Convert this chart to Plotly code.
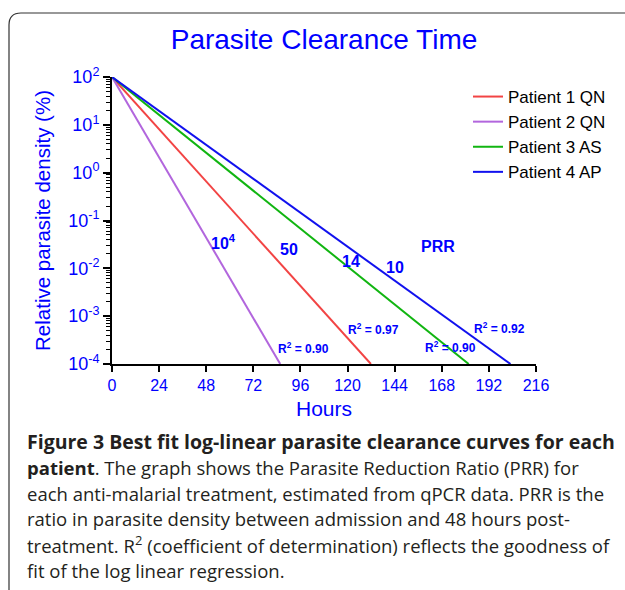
import plotly.graph_objects as go

# ---- data ----
patients = ["Patient 1 QN", "Patient 2 QN", "Patient 3 AS", "Patient 4 AP"]
colors = ["#f24444", "#b266dd", "#11b511", "#1111ee"]
start_hours = [0, 0, 0, 0]
end_hours = [131.9, 85.7, 181.7, 203.0]
start_density = [100, 100, 100, 100]
end_density = [1e-4, 1e-4, 1e-4, 1e-4]

prr_labels = ["10<sup>4</sup>", "50", "14", "10", "PRR"]
prr_x = [57.0, 90.0, 121.5, 144.0, 166.0]
prr_logy = [-1.45, -1.61, -1.85, -1.99, -1.55]

r2_labels = ["R<sup>2</sup> = 0.90", "R<sup>2</sup> = 0.97", "R<sup>2</sup> = 0.90", "R<sup>2</sup> = 0.92"]
r2_x = [97.5, 133.0, 172.5, 197.5]
r2_logy = [-3.66, -3.27, -3.65, -3.25]

y_tickvals = [1e-4, 1e-3, 1e-2, 1e-1, 1, 10, 100]
y_ticktext = ["10<sup>-4</sup>", "10<sup>-3</sup>", "10<sup>-2</sup>", "10<sup>-1</sup>",
              "10<sup>0</sup>", "10<sup>1</sup>", "10<sup>2</sup>"]
x_tickvals = [0, 24, 48, 72, 96, 120, 144, 168, 192, 216]

caption_lines = [
    "<b>Figure 3 Best fit log-linear parasite clearance curves for each</b>",
    "<b>patient</b>. The graph shows the Parasite Reduction Ratio (PRR) for",
    "each anti-malarial treatment, estimated from qPCR data. PRR is the",
    "ratio in parasite density between admission and 48 hours post-",
    "treatment. R<sup>2</sup> (coefficient of determination) reflects the goodness of",
    "fit of the log linear regression.",
]
caption_y_px = [441, 467, 493, 518, 544, 570]

# ---- layout geometry ----
W, H = 625, 590
L, R, T, B = 112, 89, 77, 226
pw, ph = W - L - R, H - T - B


def px_x(x):
    return (x - L) / pw


def px_y(y):
    return (H - B - y) / ph


BLUE = "#0000ff"
FONT = "Liberation Sans, Arial, sans-serif"

fig = go.Figure()
for name, c, x0, x1, y0, y1 in zip(patients, colors, start_hours, end_hours, start_density, end_density):
    fig.add_trace(go.Scatter(x=[x0, x1], y=[y0, y1], mode="lines", name=name,
                             line=dict(color=c, width=2)))

for t, x, ly in zip(prr_labels, prr_x, prr_logy):
    fig.add_annotation(x=x, y=ly, text=f"<b>{t}</b>", showarrow=False,
                       font=dict(family=FONT, size=16, color=BLUE))
for t, x, ly in zip(r2_labels, r2_x, r2_logy):
    fig.add_annotation(x=x, y=ly, text=f"<b>{t}</b>", showarrow=False,
                       font=dict(family=FONT, size=12, color=BLUE))

for i, (t, y) in enumerate(zip(caption_lines, caption_y_px)):
    fig.add_annotation(xref="paper", yref="paper", x=px_x(25), y=px_y(y), text=t,
                       showarrow=False, xanchor="left", yanchor="middle",
                       font=dict(family="Open Sans, sans-serif", size=19.5 if i == 0 else 18.5,
                                 color="#231f20"))

# frame with rounded top-left corner
xl, yt, rr = 9, 13, 12
path = (f"M {px_x(xl)},{px_y(600)} L {px_x(xl)},{px_y(yt + rr)} "
        f"Q {px_x(xl)},{px_y(yt)} {px_x(xl + rr)},{px_y(yt)} L {px_x(640)},{px_y(yt)}")
fig.add_shape(type="path", xref="paper", yref="paper", path=path,
              line=dict(color="#333333", width=1.2))

fig.update_layout(
    width=W, height=H,
    margin=dict(l=L, r=R, t=T, b=B, pad=0, autoexpand=False),
    paper_bgcolor="white", plot_bgcolor="white",
    title=dict(text="Parasite Clearance Time", xref="container", x=324 / W, xanchor="center",
               yref="container", y=1 - 39 / H, yanchor="middle", automargin=False,
               font=dict(family=FONT, size=28, color=BLUE)),
    legend=dict(x=px_x(468), y=px_y(79), xanchor="left", yanchor="top",
                bgcolor="rgba(0,0,0,0)", font=dict(family=FONT, size=17, color="black"),
                tracegroupgap=0),
    showlegend=True,
)
fig.update_xaxes(range=[0, 216], tickvals=x_tickvals, showgrid=False, zeroline=False,
                 automargin=False,
                 showline=True, linecolor="black", linewidth=2,
                 ticks="outside", ticklen=6, tickwidth=1.5, tickcolor="black",
                 tickfont=dict(family=FONT, size=16, color=BLUE),
                 title=dict(text="Hours", font=dict(family=FONT, size=21, color=BLUE), standoff=8))
fig.update_yaxes(type="log", range=[-4, 2], tickvals=y_tickvals, ticktext=y_ticktext,
                 automargin=False,
                 showgrid=False, zeroline=False, showline=True, linecolor="black", linewidth=2,
                 ticks="outside", ticklen=7, tickwidth=1.5, tickcolor="black",
                 minor=dict(ticks="outside", ticklen=4, tickwidth=1.2, tickcolor="black",
                            dtick="D1", showgrid=False),
                 tickfont=dict(family=FONT, size=18, color=BLUE),
                 title=dict(text="Relative parasite density (%)",
                            font=dict(family=FONT, size=20.5, color=BLUE), standoff=12))

fig.write_html("out.html", config={"displayModeBar": False},
               post_script="document.body.style.margin='0';")
